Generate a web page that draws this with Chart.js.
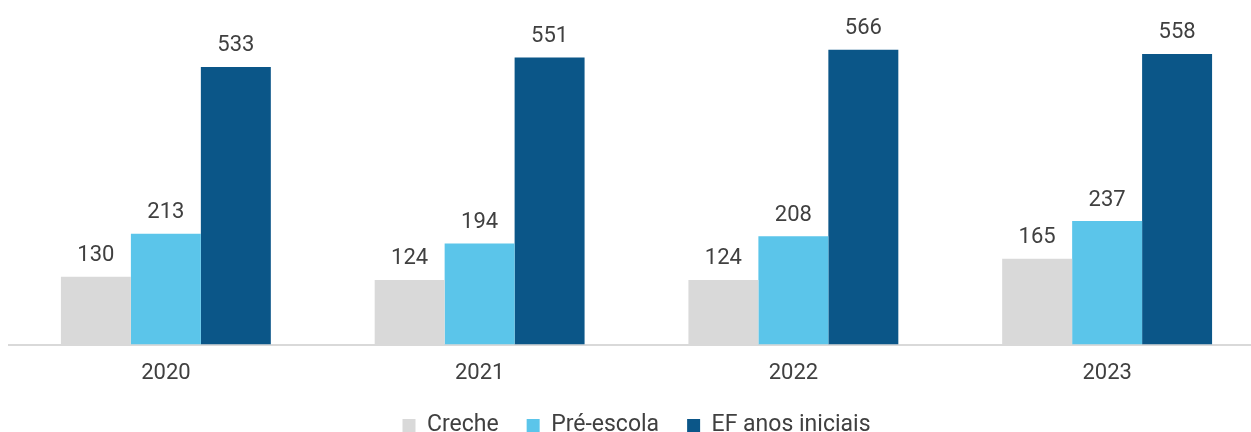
<!DOCTYPE html>
<html><head><meta charset="utf-8">
<script src="https://cdn.jsdelivr.net/npm/chart.js@4/dist/chart.umd.min.js"></script>
<style>html,body{margin:0;padding:0;background:#fff;overflow:hidden}#wrap{width:1264px;height:432px}</style>
</head><body><div id="wrap"><canvas id="c"></canvas></div>
<script>
const categories = ["2020", "2021", "2022", "2023"];
const creche = [130, 124, 124, 165];
const preEscola = [213, 194, 208, 237];
const efAnosIniciais = [533, 551, 566, 558];
const seriesNames = ["Creche", "Pré-escola", "EF anos iniciais"];
const seriesColors = ["#d9d9d9", "#5bc5ea", "#0b5688"];

const labelPlugin = {
  id: 'valueLabels',
  afterDatasetsDraw(chart) {
    const ctx = chart.ctx;
    ctx.save();
    ctx.font = '22px Roboto';
    ctx.fillStyle = '#404040';
    ctx.textAlign = 'center';
    ctx.textBaseline = 'middle';
    chart.data.datasets.forEach((ds, i) => {
      chart.getDatasetMeta(i).data.forEach((bar, j) => {
        ctx.fillText(String(ds.data[j]), bar.x, bar.y - 21);
      });
    });
    ctx.restore();
  }
};

new Chart(document.getElementById('c'), {
  type: 'bar',
  data: {
    labels: categories,
    datasets: [creche, preEscola, efAnosIniciais].map((d, i) => ({
      label: seriesNames[i], data: d, backgroundColor: seriesColors[i],
      categoryPercentage: 0.669, barPercentage: 1.0, borderWidth: 0
    }))
  },
  options: {
    responsive: true, maintainAspectRatio: false, animation: false,
    layout: { padding: { top: 32, left: 9, right: 0, bottom: -15 } },
    plugins: {
      tooltip: { enabled: false },
      legend: {
        position: 'bottom',
        labels: { boxWidth: 13, boxHeight: 13, font: { family: 'Roboto', size: 23 }, color: '#404040', padding: 28 }
      }
    },
    scales: {
      x: {
        grid: { display: false, drawTicks: false },
        border: { display: true, color: '#d9d9d9', width: 2 },
        ticks: { font: { family: 'Roboto', size: 22 }, color: '#404040', padding: 16 },
        afterFit(scale) { scale.height -= 17; }
      },
      y: { display: false, min: 0, max: 600 }
    }
  },
  plugins: [labelPlugin]
});
</script></body></html>
